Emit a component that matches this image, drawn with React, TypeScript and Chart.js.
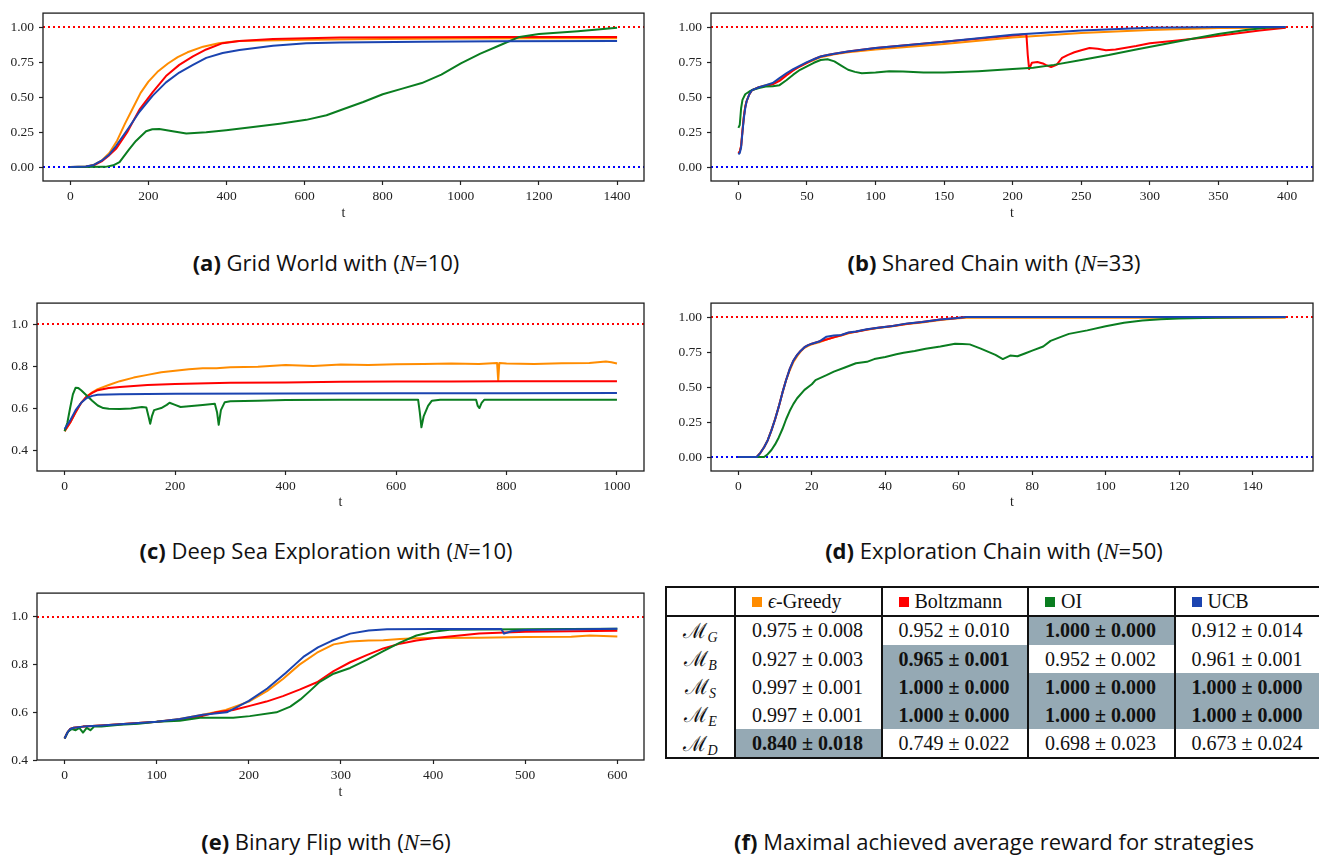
import React, { useEffect, useRef } from 'react';
import { Chart, registerables } from 'chart.js';
Chart.register(...registerables);

// ---------------- (a) Grid World (N=10) ----------------
const gridT_greedy = [0, 40, 60, 80, 100, 120, 140, 160, 180, 200, 225, 250, 275, 300, 340, 380, 430, 500, 600, 800, 1000, 1200, 1400];
const gridV_greedy = [0, 0.003, 0.015, 0.045, 0.1, 0.19, 0.31, 0.42, 0.53, 0.61, 0.685, 0.74, 0.785, 0.82, 0.86, 0.885, 0.9, 0.905, 0.91, 0.915, 0.918, 0.92, 0.92];
const gridT_boltz = [0, 40, 60, 80, 100, 117, 147, 177, 211, 245, 279, 314, 348, 390, 433, 519, 690, 900, 1100, 1400];
const gridV_boltz = [0, 0.002, 0.012, 0.04, 0.085, 0.13, 0.255, 0.41, 0.535, 0.65, 0.73, 0.79, 0.84, 0.885, 0.9, 0.915, 0.925, 0.928, 0.93, 0.93];
const gridT_oi = [0, 90, 110, 126, 151, 168, 194, 210, 228, 262, 297, 348, 399, 468, 536, 604, 656, 700, 750, 800, 850, 900, 950, 1000, 1050, 1100, 1150, 1200, 1300, 1400];
const gridV_oi = [0, 0.001, 0.012, 0.035, 0.128, 0.186, 0.256, 0.27, 0.272, 0.256, 0.24, 0.249, 0.263, 0.286, 0.31, 0.337, 0.37, 0.415, 0.465, 0.52, 0.56, 0.6, 0.66, 0.74, 0.81, 0.87, 0.93, 0.95, 0.97, 0.995];
const gridT_ucb = [0, 40, 60, 80, 100, 117, 147, 177, 211, 245, 279, 314, 348, 390, 433, 519, 604, 690, 900, 1100, 1400];
const gridV_ucb = [0, 0.003, 0.015, 0.045, 0.09, 0.15, 0.27, 0.395, 0.51, 0.605, 0.675, 0.73, 0.78, 0.815, 0.837, 0.867, 0.884, 0.89, 0.895, 0.898, 0.9];

// ---------------- (b) Shared Chain (N=33) ----------------
const sharedT_greedy = [0, 1, 2, 3, 4, 5, 6, 8, 10, 15, 20, 25, 30, 35, 40, 45, 50, 55, 60, 65, 70, 80, 100, 150, 200, 250, 300, 350, 399];
const sharedV_greedy = [0.1, 0.11, 0.15, 0.26, 0.36, 0.43, 0.47, 0.52, 0.55, 0.57, 0.585, 0.595, 0.625, 0.66, 0.695, 0.72, 0.745, 0.765, 0.785, 0.795, 0.805, 0.82, 0.84, 0.88, 0.925, 0.957, 0.98, 0.993, 0.995];
const sharedT_boltz = [0, 1, 2, 3, 4, 5, 6, 8, 10, 15, 20, 25, 30, 35, 40, 45, 50, 55, 60, 65, 70, 80, 100, 150, 200, 210, 211, 212, 214, 218, 222, 225, 228, 232, 236, 240, 245, 250, 256, 262, 268, 275, 290, 300, 320, 340, 360, 380, 399];
const sharedV_boltz = [0.1, 0.11, 0.15, 0.26, 0.36, 0.43, 0.47, 0.52, 0.55, 0.57, 0.58, 0.59, 0.615, 0.655, 0.69, 0.72, 0.745, 0.77, 0.79, 0.8, 0.81, 0.825, 0.85, 0.895, 0.94, 0.948, 0.8, 0.7, 0.745, 0.75, 0.74, 0.725, 0.715, 0.73, 0.78, 0.8, 0.82, 0.835, 0.85, 0.845, 0.835, 0.84, 0.865, 0.885, 0.905, 0.925, 0.95, 0.975, 0.995];
const sharedT_oi = [0, 1, 2, 3, 5, 8, 10, 15, 20, 25, 30, 35, 40, 45, 50, 55, 60, 65, 70, 75, 80, 85, 90, 100, 110, 120, 135, 150, 175, 200, 215, 230, 250, 270, 290, 310, 330, 350, 370, 385, 399];
const sharedV_oi = [0.28, 0.3, 0.42, 0.48, 0.52, 0.54, 0.55, 0.565, 0.575, 0.578, 0.585, 0.62, 0.66, 0.695, 0.72, 0.745, 0.765, 0.77, 0.755, 0.725, 0.695, 0.68, 0.67, 0.675, 0.685, 0.683, 0.675, 0.675, 0.685, 0.7, 0.71, 0.73, 0.765, 0.8, 0.84, 0.878, 0.915, 0.95, 0.98, 0.995, 1.0];
const sharedT_ucb = [0, 1, 2, 3, 4, 5, 6, 8, 10, 15, 20, 25, 30, 35, 40, 45, 50, 55, 60, 65, 70, 80, 100, 150, 200, 250, 300, 350, 399];
const sharedV_ucb = [0.09, 0.1, 0.14, 0.25, 0.35, 0.42, 0.47, 0.52, 0.55, 0.57, 0.585, 0.6, 0.635, 0.67, 0.7, 0.725, 0.75, 0.77, 0.79, 0.8, 0.81, 0.825, 0.85, 0.895, 0.945, 0.975, 0.995, 1.0, 1.0];

// ---------------- (c) Deep Sea Exploration (N=10) ----------------
const deepT_greedy = [0, 10, 20, 30, 40, 50, 60, 80, 100, 125, 150, 175, 200, 225, 250, 275, 300, 350, 400, 450, 500, 550, 600, 650, 700, 750, 783, 785, 787, 800, 850, 900, 950, 980, 990, 1000];
const deepV_greedy = [0.49, 0.53, 0.58, 0.625, 0.655, 0.675, 0.69, 0.71, 0.728, 0.745, 0.758, 0.77, 0.778, 0.785, 0.789, 0.79, 0.794, 0.797, 0.805, 0.8, 0.808, 0.805, 0.809, 0.81, 0.812, 0.81, 0.815, 0.73, 0.815, 0.812, 0.81, 0.813, 0.815, 0.822, 0.818, 0.812];
const deepT_boltz = [0, 10, 20, 30, 40, 50, 60, 80, 100, 150, 200, 300, 400, 500, 600, 700, 800, 900, 1000];
const deepV_boltz = [0.49, 0.53, 0.58, 0.625, 0.655, 0.672, 0.685, 0.695, 0.7, 0.71, 0.715, 0.72, 0.722, 0.725, 0.726, 0.726, 0.728, 0.728, 0.728];
const deepT_oi = [0, 5, 10, 15, 20, 25, 30, 40, 50, 60, 70, 80, 100, 120, 140, 148, 152, 155, 158, 162, 175, 185, 190, 200, 210, 230, 250, 272, 276, 279, 283, 290, 300, 350, 400, 500, 640, 643, 646, 650, 658, 665, 680, 745, 748, 751, 755, 760, 1000];
const deepV_oi = [0.49, 0.53, 0.6, 0.665, 0.697, 0.695, 0.685, 0.66, 0.635, 0.612, 0.6, 0.597, 0.595, 0.598, 0.605, 0.603, 0.56, 0.525, 0.56, 0.59, 0.6, 0.615, 0.625, 0.615, 0.605, 0.61, 0.615, 0.62, 0.58, 0.52, 0.59, 0.628, 0.632, 0.635, 0.638, 0.64, 0.64, 0.58, 0.508, 0.56, 0.61, 0.635, 0.64, 0.64, 0.61, 0.6, 0.625, 0.64, 0.64];
const deepT_ucb = [0, 10, 20, 30, 40, 50, 60, 100, 200, 400, 600, 800, 1000];
const deepV_ucb = [0.5, 0.54, 0.59, 0.625, 0.648, 0.658, 0.663, 0.666, 0.668, 0.669, 0.67, 0.671, 0.672];

// ---------------- (d) Exploration Chain (N=50) ----------------
const explT_greedy = [0, 5, 6, 7, 8, 9, 10, 11, 12, 13, 14, 15, 16, 17, 18, 19, 20, 22, 24, 26, 28, 30, 32, 35, 38, 42, 46, 50, 55, 59, 62, 149];
const explV_greedy = [0, 0, 0.03, 0.07, 0.12, 0.19, 0.27, 0.36, 0.46, 0.55, 0.62, 0.68, 0.72, 0.755, 0.78, 0.795, 0.805, 0.82, 0.84, 0.855, 0.868, 0.885, 0.895, 0.91, 0.922, 0.935, 0.95, 0.962, 0.98, 0.99, 0.995, 0.995];
const explT_boltz = [0, 5, 6, 7, 8, 9, 10, 11, 12, 13, 14, 15, 16, 17, 18, 19, 20, 22, 24, 26, 28, 30, 32, 35, 38, 42, 46, 50, 55, 59, 62, 149];
const explV_boltz = [0, 0, 0.03, 0.07, 0.12, 0.19, 0.27, 0.36, 0.46, 0.55, 0.63, 0.69, 0.73, 0.76, 0.785, 0.8, 0.81, 0.825, 0.84, 0.855, 0.87, 0.888, 0.895, 0.912, 0.923, 0.937, 0.953, 0.965, 0.983, 0.992, 1.0, 1.0];
const explT_oi = [0, 7, 8, 9, 10, 11, 12, 13, 14, 15, 16, 18, 20, 21, 24, 26, 29, 32, 35, 37, 40, 43, 45, 48, 51, 55, 59, 61, 63, 66, 70, 72, 74, 76, 78, 80, 83, 85, 88, 90, 95, 100, 105, 110, 115, 120, 130, 149];
const explV_oi = [0, 0, 0.02, 0.05, 0.09, 0.14, 0.2, 0.27, 0.33, 0.38, 0.42, 0.48, 0.52, 0.55, 0.585, 0.61, 0.64, 0.67, 0.68, 0.7, 0.715, 0.735, 0.745, 0.758, 0.774, 0.79, 0.81, 0.808, 0.805, 0.775, 0.73, 0.7, 0.725, 0.72, 0.74, 0.76, 0.79, 0.83, 0.86, 0.88, 0.905, 0.935, 0.96, 0.975, 0.985, 0.99, 0.995, 1.0];
const explT_ucb = [0, 5, 6, 7, 8, 9, 10, 11, 12, 13, 14, 15, 16, 17, 18, 19, 20, 22, 24, 26, 28, 30, 32, 35, 38, 42, 46, 50, 55, 59, 62, 149];
const explV_ucb = [0, 0, 0.03, 0.07, 0.12, 0.19, 0.27, 0.36, 0.46, 0.55, 0.63, 0.69, 0.73, 0.76, 0.785, 0.8, 0.81, 0.825, 0.86, 0.868, 0.872, 0.89, 0.897, 0.913, 0.924, 0.937, 0.955, 0.965, 0.983, 0.992, 1.0, 1.0];

// ---------------- (e) Binary Flip (N=6) ----------------
const flipT_greedy = [0, 3, 6, 10, 20, 40, 60, 80, 100, 125, 150, 175, 200, 220, 237, 255, 274, 292, 310, 330, 346, 364, 382, 400, 450, 500, 550, 570, 600];
const flipV_greedy = [0.49, 0.515, 0.53, 0.535, 0.54, 0.545, 0.55, 0.555, 0.56, 0.572, 0.59, 0.61, 0.645, 0.69, 0.74, 0.8, 0.85, 0.885, 0.897, 0.901, 0.902, 0.907, 0.911, 0.912, 0.913, 0.916, 0.917, 0.922, 0.918];
const flipT_boltz = [0, 3, 6, 10, 20, 40, 60, 80, 100, 125, 150, 165, 183, 201, 219, 237, 255, 274, 292, 310, 328, 346, 364, 382, 400, 418, 450, 500, 600];
const flipV_boltz = [0.49, 0.515, 0.53, 0.535, 0.54, 0.545, 0.55, 0.555, 0.56, 0.57, 0.585, 0.6, 0.61, 0.627, 0.645, 0.668, 0.695, 0.726, 0.773, 0.81, 0.84, 0.868, 0.888, 0.901, 0.911, 0.918, 0.931, 0.938, 0.942];
const flipT_oi = [0, 4, 8, 12, 16, 20, 24, 28, 32, 40, 60, 80, 100, 125, 147, 183, 201, 230, 245, 256, 267, 277, 292, 310, 328, 346, 364, 382, 400, 418, 450, 500, 600];
const flipV_oi = [0.49, 0.52, 0.53, 0.525, 0.535, 0.515, 0.535, 0.525, 0.54, 0.54, 0.548, 0.552, 0.56, 0.565, 0.577, 0.577, 0.584, 0.6, 0.624, 0.654, 0.692, 0.728, 0.762, 0.786, 0.82, 0.857, 0.892, 0.922, 0.938, 0.946, 0.947, 0.948, 0.95];
const flipT_ucb = [0, 3, 6, 10, 20, 40, 60, 80, 100, 125, 150, 176, 200, 220, 240, 250, 260, 275, 290, 310, 330, 350, 400, 474, 477, 485, 500, 600];
const flipV_ucb = [0.49, 0.515, 0.53, 0.535, 0.54, 0.545, 0.55, 0.555, 0.56, 0.572, 0.59, 0.6, 0.648, 0.7, 0.765, 0.8, 0.835, 0.872, 0.9, 0.93, 0.943, 0.948, 0.949, 0.949, 0.93, 0.94, 0.945, 0.95];

// ---------------- tick labels ----------------
const ticksX_grid = [0, 200, 400, 600, 800, 1000, 1200, 1400];
const ticksX_shared = [0, 50, 100, 150, 200, 250, 300, 350, 400];
const ticksX_deep = [0, 200, 400, 600, 800, 1000];
const ticksX_expl = [0, 20, 40, 60, 80, 100, 120, 140];
const ticksX_flip = [0, 100, 200, 300, 400, 500, 600];
const ticksY_unit = [0, 0.25, 0.5, 0.75, 1.0];
const ticksY_deep = [0.4, 0.6, 0.8, 1.0];
const ticksY_flip = [0.4, 0.6, 0.8, 1.0];

// ---------------- table (f) ----------------
const strategies = ['\u03f5-Greedy', 'Boltzmann', 'OI', 'UCB'];
const envSubscripts = ['G', 'B', 'S', 'E', 'D'];
const rewardMeans = [
  [0.975, 0.952, 1.0, 0.912],
  [0.927, 0.965, 0.952, 0.961],
  [0.997, 1.0, 1.0, 1.0],
  [0.997, 1.0, 1.0, 1.0],
  [0.84, 0.749, 0.698, 0.673],
];
const rewardStds = [
  [0.008, 0.01, 0.0, 0.014],
  [0.003, 0.001, 0.002, 0.001],
  [0.001, 0.0, 0.0, 0.0],
  [0.001, 0.0, 0.0, 0.0],
  [0.018, 0.022, 0.023, 0.024],
];

const COLORS = ['#ff8c00', '#ff0000', '#0a7d20', '#1b44b0'];
const SERIF = "'Liberation Serif', 'DejaVu Serif', serif";
const SANS = "'Open Sans', 'Noto Sans', sans-serif";

type Series = { t: number[]; v: number[] };
type PanelProps = {
  left: number; top: number; width: number; height: number;
  padTop: number; padRight: number; yAxisW: number; xAxisH: number; titlePad: number;
  xMin: number; xMax: number; yMin: number; yMax: number;
  xTicks: number[]; yTicks: number[]; yDigits: number;
  series: Series[]; refs: { y: number; color: string }[];
};

const framePlugin = {
  id: 'frame',
  afterDatasetsDraw(chart: any) {
    const { ctx, chartArea } = chart;
    ctx.save();
    ctx.strokeStyle = '#1e1e1e';
    ctx.lineWidth = 1.3;
    ctx.strokeRect(chartArea.left, chartArea.top, chartArea.right - chartArea.left, chartArea.bottom - chartArea.top);
    ctx.restore();
  },
};

function Panel(p: PanelProps) {
  const ref = useRef<HTMLCanvasElement>(null);
  useEffect(() => {
    const datasets: any[] = [];
    p.series.forEach((s, i) => {
      datasets.push({
        data: s.t.map((t, j) => ({ x: t, y: s.v[j] })),
        borderColor: COLORS[i],
        borderWidth: 2,
        pointRadius: 0,
        tension: 0,
        fill: false,
        borderJoinStyle: 'round',
        order: p.series.length - i,
      });
    });
    p.refs.forEach((r) => {
      datasets.push({
        data: [{ x: p.xMin, y: r.y }, { x: p.xMax, y: r.y }],
        borderColor: r.color,
        borderWidth: 2,
        borderDash: [2, 3],
        pointRadius: 0,
        fill: false,
        order: 10,
      });
    });
    const tickFont = { family: SERIF, size: 13.5 };
    const chart = new Chart(ref.current as HTMLCanvasElement, {
      type: 'line',
      data: { datasets },
      options: {
        animation: false,
        responsive: false,
        events: [],
        plugins: { legend: { display: false }, tooltip: { enabled: false } },
        layout: { padding: { left: 0, top: p.padTop, right: p.padRight, bottom: 0 } },
        scales: {
          x: {
            type: 'linear',
            min: p.xMin,
            max: p.xMax,
            afterFit: (s: any) => { s.height = p.xAxisH; },
            afterBuildTicks: (s: any) => { s.ticks = p.xTicks.map((v) => ({ value: v })); },
            ticks: { font: tickFont, color: '#222', padding: 3, maxRotation: 0, autoSkip: false, callback: (v: any) => String(v) },
            grid: { display: true, drawOnChartArea: false, drawTicks: true, tickLength: 4, tickColor: '#222', tickWidth: 1.2 },
            border: { display: false },
            title: { display: true, text: 't', font: { family: SERIF, size: 14 }, color: '#222', padding: { top: 0, bottom: p.titlePad } },
          },
          y: {
            type: 'linear',
            min: p.yMin,
            max: p.yMax,
            afterFit: (s: any) => { s.width = p.yAxisW; },
            afterBuildTicks: (s: any) => { s.ticks = p.yTicks.map((v) => ({ value: v })); },
            ticks: { font: tickFont, color: '#222', padding: 5, autoSkip: false, callback: (v: any) => Number(v).toFixed(p.yDigits) },
            grid: { display: true, drawOnChartArea: false, drawTicks: true, tickLength: 4, tickColor: '#222', tickWidth: 1.2 },
            border: { display: false },
          },
        },
      } as any,
      plugins: [framePlugin],
    });
    return () => chart.destroy();
  }, []);
  return <canvas ref={ref} width={p.width} height={p.height} style={{ position: 'absolute', left: p.left, top: p.top }} />;
}

function Caption(props: { cx: number; cy: number; label: string; text: string; n?: string }) {
  return (
    <div style={{ position: 'absolute', left: props.cx - 330, top: props.cy - 15, width: 660, height: 30, lineHeight: '30px', textAlign: 'center', fontFamily: SANS, fontSize: 22, color: '#111', whiteSpace: 'nowrap' }}>
      <b>({props.label})</b> {props.text}
      {props.n !== undefined ? (
        <span>
          (<span style={{ fontFamily: SERIF, fontStyle: 'italic', fontSize: 23 }}>N</span>={props.n})
        </span>
      ) : null}
    </div>
  );
}

function ResultTable() {
  const X = [666, 735, 881.5, 1028, 1174.5, 1321];
  const Y = [587, 616, 645, 673, 701, 729, 758];
  const shade = '#95a9b4';
  const cells: any[] = [];
  strategies.forEach((s, c) => {
    cells.push(
      <div key={'h' + c} style={{ position: 'absolute', left: X[c + 1], top: Y[0], width: X[c + 2] - X[c + 1], height: Y[1] - Y[0], display: 'flex', alignItems: 'center', paddingLeft: 17, boxSizing: 'border-box', fontFamily: SERIF, fontSize: 20, color: '#111', whiteSpace: 'nowrap' }}>
        <span style={{ display: 'inline-block', width: 10, height: 10, background: COLORS[c], marginRight: 6 }} />
        {c === 0 ? (<span><i>{s.slice(0, 1)}</i>{s.slice(1)}</span>) : s}
      </div>
    );
  });
  envSubscripts.forEach((e, r) => {
    const rowMax = Math.max(...rewardMeans[r]);
    cells.push(
      <div key={'l' + r} style={{ position: 'absolute', left: X[0], top: Y[r + 1], width: X[1] - X[0], height: Y[r + 2] - Y[r + 1], display: 'flex', alignItems: 'center', justifyContent: 'center', fontFamily: SERIF, fontSize: 21, color: '#111' }}>
        <span>{'\u2133'}<sub style={{ fontStyle: 'italic', fontSize: 14, verticalAlign: '-4px' }}>{e}</sub></span>
      </div>
    );
    rewardMeans[r].forEach((m, c) => {
      const best = m === rowMax;
      cells.push(
        <div key={'c' + r + '_' + c} style={{ position: 'absolute', left: X[c + 1], top: Y[r + 1], width: X[c + 2] - X[c + 1], height: Y[r + 2] - Y[r + 1], background: best ? shade : 'transparent', display: 'flex', alignItems: 'center', paddingLeft: 17, boxSizing: 'border-box', fontFamily: SERIF, fontSize: 20, fontWeight: best ? 700 : 400, color: '#111', whiteSpace: 'nowrap' }}>
          {m.toFixed(3)} {'\u00b1'} {rewardStds[r][c].toFixed(3)}
        </div>
      );
    });
  });
  const lines: any[] = [];
  [Y[0], Y[1], Y[6]].forEach((y, i) => {
    lines.push(<div key={'hl' + i} style={{ position: 'absolute', left: X[0] - 1, top: y - 1, width: X[5] - X[0] + 2, height: 2, background: '#111' }} />);
  });
  X.forEach((x, i) => {
    lines.push(<div key={'vl' + i} style={{ position: 'absolute', left: x - 1, top: Y[0] - 1, width: 2, height: Y[6] - Y[0] + 2, background: '#111' }} />);
  });
  return <>{cells}{lines}</>;
}

export default function App() {
  const common = { width: 660, height: 230 };
  return (
    <div style={{ position: 'absolute', left: 0, top: 0, width: 1319, height: 856, overflow: 'hidden', background: '#fff' }}>
      <Panel {...common} left={0} top={0} width={660} padTop={8} padRight={16} yAxisW={43} xAxisH={49} titlePad={8.5}
        xMin={-69.95} xMax={1468.95} yMin={-0.1} yMax={1.1} xTicks={ticksX_grid} yTicks={ticksY_unit} yDigits={2}
        series={[{ t: gridT_greedy, v: gridV_greedy }, { t: gridT_boltz, v: gridV_boltz }, { t: gridT_oi, v: gridV_oi }, { t: gridT_ucb, v: gridV_ucb }]}
        refs={[{ y: 1, color: '#ff0000' }, { y: 0, color: '#0000ff' }]} />
      <Panel {...common} left={660} top={0} width={659} padTop={8} padRight={6} yAxisW={51} xAxisH={49} titlePad={8.5}
        xMin={-19.95} xMax={418.95} yMin={-0.1} yMax={1.1} xTicks={ticksX_shared} yTicks={ticksY_unit} yDigits={2}
        series={[{ t: sharedT_greedy, v: sharedV_greedy }, { t: sharedT_boltz, v: sharedV_boltz }, { t: sharedT_oi, v: sharedV_oi }, { t: sharedT_ucb, v: sharedV_ucb }]}
        refs={[{ y: 1, color: '#ff0000' }, { y: 0, color: '#0000ff' }]} />
      <Panel {...common} left={0} top={290} width={660} padTop={8} padRight={16} yAxisW={37} xAxisH={49} titlePad={9.5}
        xMin={-49.95} xMax={1048.95} yMin={0.3} yMax={1.1} xTicks={ticksX_deep} yTicks={ticksY_deep} yDigits={1}
        series={[{ t: deepT_greedy, v: deepV_greedy }, { t: deepT_boltz, v: deepV_boltz }, { t: deepT_oi, v: deepV_oi }, { t: deepT_ucb, v: deepV_ucb }]}
        refs={[{ y: 1, color: '#ff0000' }]} />
      <Panel {...common} left={660} top={290} width={659} padTop={8} padRight={6} yAxisW={51} xAxisH={49} titlePad={9.5}
        xMin={-7.45} xMax={156.45} yMin={-0.1} yMax={1.1} xTicks={ticksX_expl} yTicks={ticksY_unit} yDigits={2}
        series={[{ t: explT_greedy, v: explV_greedy }, { t: explT_boltz, v: explV_boltz }, { t: explT_oi, v: explV_oi }, { t: explT_ucb, v: explV_ucb }]}
        refs={[{ y: 1, color: '#ff0000' }, { y: 0, color: '#0000ff' }]} />
      <Panel {...common} left={0} top={580} width={660} padTop={7} padRight={16} yAxisW={37} xAxisH={50} titlePad={9.5}
        xMin={-29.95} xMax={628.95} yMin={0.4} yMax={1.1} xTicks={ticksX_flip} yTicks={ticksY_flip} yDigits={1}
        series={[{ t: flipT_greedy, v: flipV_greedy }, { t: flipT_boltz, v: flipV_boltz }, { t: flipT_oi, v: flipV_oi }, { t: flipT_ucb, v: flipV_ucb }]}
        refs={[{ y: 1, color: '#ff0000' }]} />
      <ResultTable />
      <Caption cx={326} cy={262} label="a" text="Grid World with " n="10" />
      <Caption cx={994} cy={262} label="b" text="Shared Chain with " n="33" />
      <Caption cx={326} cy={550} label="c" text="Deep Sea Exploration with " n="10" />
      <Caption cx={994} cy={550} label="d" text="Exploration Chain with " n="50" />
      <Caption cx={326} cy={841} label="e" text="Binary Flip with " n="6" />
      <Caption cx={994} cy={841} label="f" text="Maximal achieved average reward for strategies" />
    </div>
  );
}
